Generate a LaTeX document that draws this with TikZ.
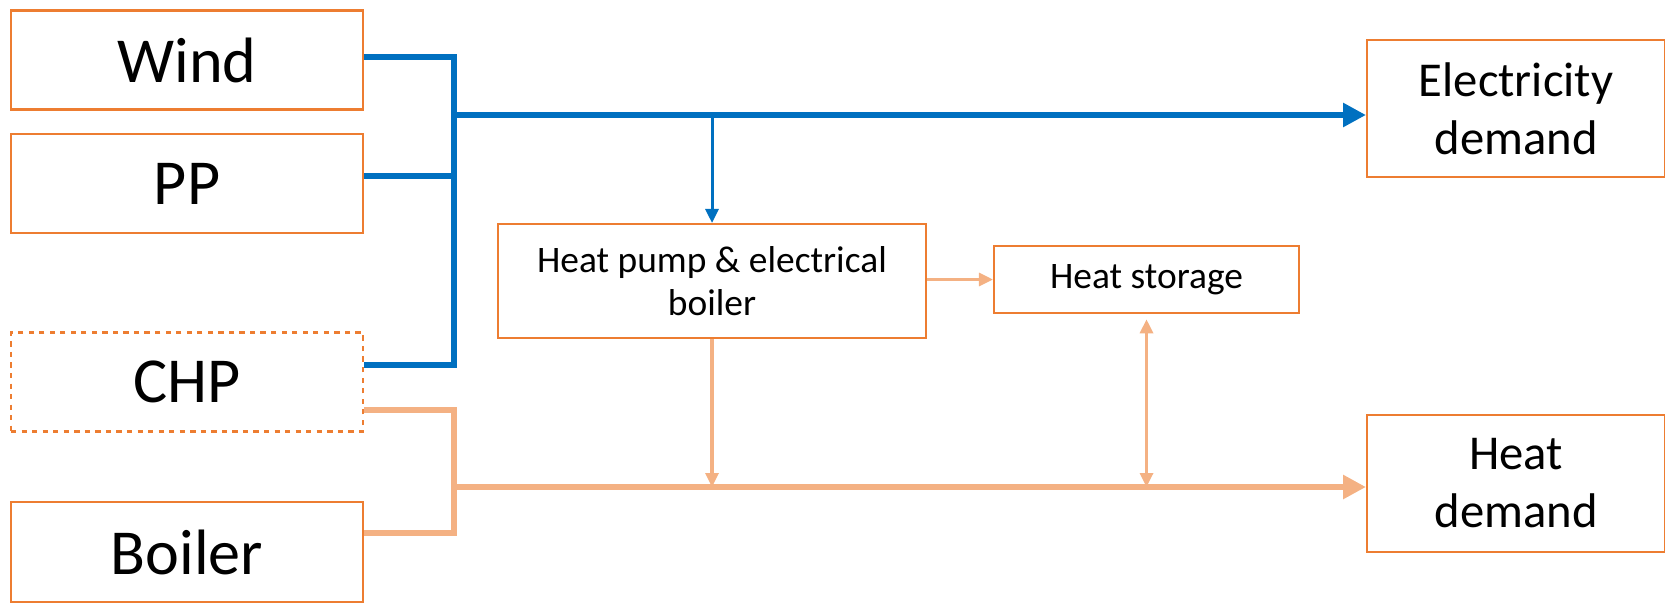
\documentclass[tikz,border=0pt]{standalone}
\usepackage{fontspec}
\setmainfont{Carlito}
\usetikzlibrary{arrows.meta}
\definecolor{boxorange}{HTML}{ED7D31}
\definecolor{elblue}{HTML}{0070C0}
\definecolor{heatorange}{HTML}{F4B183}
\tikzset{
  unit/.style={draw=boxorange, line width=1.2pt, fill=white, inner sep=0pt, align=center,
    minimum width=7.04cm, minimum height=1.98cm, font=\fontsize{36.5}{40}\selectfont},
  demand/.style={unit, minimum width=5.96cm, minimum height=2.74cm, font=\fontsize{27.7}{33}\selectfont},
  conv/.style={unit, font=\fontsize{21.3}{24.5}\selectfont},
  eline/.style={elblue, line width=3.4pt},
  ethin/.style={elblue, line width=1.7pt},
  hline/.style={heatorange, line width=3.4pt},
  hthin/.style={heatorange, line width=1.8pt},
}
\begin{document}
\begin{tikzpicture}[x=0.02cm, y=-0.02cm]
  \useasboundingbox (0,0) rectangle (1665,602);
  % sources
  \node[unit] (wind) at (187,60) {Wind};
  \node[unit] (pp) at (187,183.5) {PP};
  \node[unit, dashed] (chp) at (187,382) {CHP};
  \node[unit, minimum height=2cm] (boiler) at (187,552) {Boiler};
  % conversion and storage
  \node[conv, minimum width=8.56cm, minimum height=2.28cm] (hp) at (712,281) {Heat pump \& electrical\\boiler};
  \node[conv, minimum width=6.1cm, minimum height=1.34cm] (hs) at (1146.5,279.5) {Heat storage};
  % demands
  \node[demand] (elec) at (1516,108.5) {Electricity\\demand};
  \node[demand] (heat) at (1516,483.5) {Heat\\demand};
  % electricity bus
  \coordinate (etop) at (454,57);
  \coordinate (ebot) at (454,365);
  \coordinate (ebus) at (454,115);
  \draw[eline] (wind.east |- etop) -- (etop) -- (ebot) -- (chp.east |- ebot);
  \draw[eline] (pp.east |- 0,176) -- (454,176);
  \draw[eline, -{Triangle[length=0.46cm, width=0.46cm]}] (ebus) -- (ebus -| elec.west);
  \draw[ethin, -{Triangle[length=0.28cm, width=0.26cm]}] (ebus -| hp.north) -- (hp.north);
  % heat bus
  \coordinate (htop) at (454,410);
  \coordinate (hbot) at (454,533);
  \coordinate (hbus) at (454,487);
  \draw[hline] (chp.east |- htop) -- (htop) -- (hbot) -- (boiler.east |- hbot);
  \draw[hline, -{Triangle[length=0.46cm, width=0.46cm]}] (hbus) -- (hbus -| heat.west);
  \draw[hthin, -{Triangle[length=0.28cm, width=0.26cm]}] (hp.south) -- (hp.south |- hbus);
  \draw[hthin, -{Triangle[length=0.28cm, width=0.26cm]}] (hp.east |- hs.west) -- (hs.west);
  \draw[hthin, {Triangle[length=0.28cm, width=0.26cm]}-{Triangle[length=0.28cm, width=0.26cm]}]
    ([yshift=-3pt]hs.south) -- (hs.south |- hbus);
\end{tikzpicture}
\end{document}
